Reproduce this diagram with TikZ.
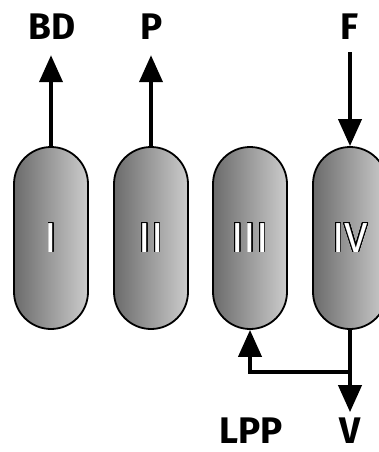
\documentclass[tikz,border=0pt]{standalone}
\usepackage{fontspec}
\setmainfont{Fira Sans}
\usepackage{contour}
\usetikzlibrary{arrows.meta}
\contourlength{0.7pt}
\contournumber{32}
\begin{document}
\begin{tikzpicture}[x=1pt,y=-1pt,
  capsule/.style={draw=black, line width=1.8pt, rounded corners=37pt,
    minimum width=74pt, minimum height=182pt, inner sep=0pt,
    left color=black!58, right color=black!20,
    font=\fontsize{42}{42}\selectfont},
  lbl/.style={anchor=base, inner sep=0pt, font=\bfseries\fontsize{37}{37}\selectfont},
  arr/.style={line width=4pt, -{Triangle[length=27pt,width=23pt]}}]
\clip (0,0) rectangle (379,452);
\node[capsule] (c1) at (51,238) {\contour{black}{\textcolor{white}{I}}};
\node[capsule] (c2) at (151,238) {\contour{black}{\textcolor{white}{II}}};
\node[capsule] (c3) at (250,238) {\contour{black}{\textcolor{white}{III}}};
\node[capsule] (c4) at (350,238) {\contour{black}{\textcolor{white}{IV}}};
\node[lbl] (BD) at (52,40) {BD};
\node[lbl] (P) at (152,40) {P};
\node[lbl] (F) at (350,40) {F};
\node[lbl] (LPP) at (251,443) {LPP};
\node[lbl] (V) at (350,443) {V};
\coordinate (j) at (350,372);
\draw[arr, shorten >=15pt] (c1.north) -- (c1.north |- BD.south);
\draw[arr, shorten >=15pt] (c2.north) -- (c2.north |- P.south);
\draw[arr, shorten <=12pt] (c4.north |- F.south) -- (c4.north);
\draw[arr, shorten >=1pt] (c4.south) -- ([yshift=4pt]c4.south |- V.north);
\draw[arr, line cap=butt] (j) -| (c3.south);
\end{tikzpicture}
\end{document}
